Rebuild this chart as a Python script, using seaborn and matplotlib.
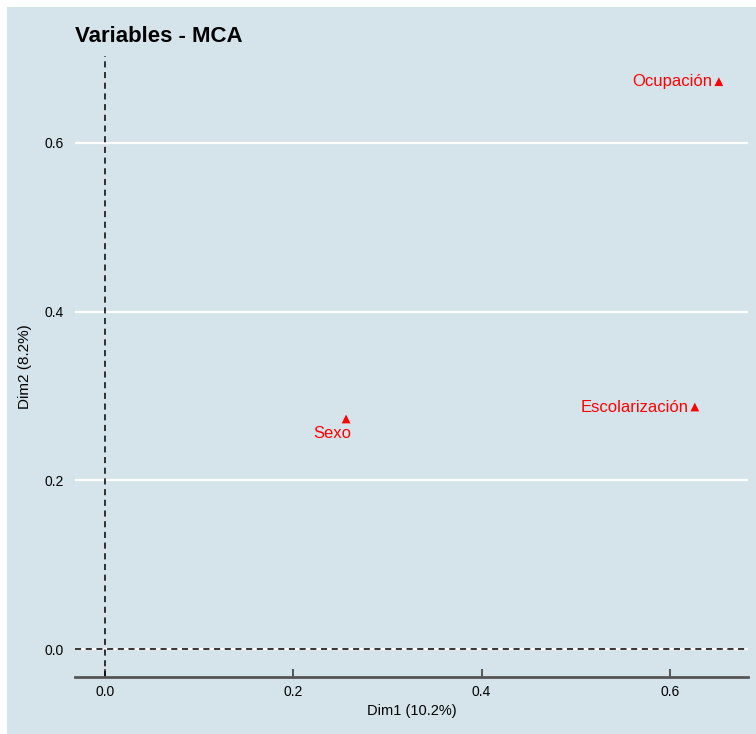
import numpy as np
import pandas as pd
import seaborn as sns
import matplotlib.pyplot as plt
from matplotlib.patches import Rectangle

# -------- Data --------
variables = ["Ocupación", "Escolarización", "Sexo"]
dim1 = [0.652, 0.6265, 0.256]
dim2 = [0.6726, 0.287, 0.2728]
x_ticks = [0.0, 0.2, 0.4, 0.6]
y_ticks = [0.0, 0.2, 0.4, 0.6]
x_label = "Dim1 (10.2%)"
y_label = "Dim2 (8.2%)"
title = "Variables - MCA"

df = pd.DataFrame({"Dim1": dim1, "Dim2": dim2, "var": variables})

BG = "#d5e4eb"
sns.set_style("white")
plt.rcParams["font.family"] = ["Liberation Sans", "DejaVu Sans"]
plt.rcParams["text.color"] = "black"
plt.rcParams["axes.labelcolor"] = "black"
plt.rcParams["xtick.color"] = "black"
plt.rcParams["ytick.color"] = "black"

fig = plt.figure(figsize=(7.56, 7.34), dpi=100)
fig.patch.set_facecolor("white")
# panel background (image is cropped: white strip on top/left only)
fig.patches.append(Rectangle((7 / 756, 0), 1, 1 - 7 / 734, transform=fig.transFigure,
                             facecolor=BG, edgecolor="none", zorder=-10))

ax = fig.add_axes([75 / 756, 1 - 677 / 734, 673 / 756, 621 / 734])
ax.set_facecolor(BG)
ax.set_zorder(1)

ax.set_xlim(-0.032, 0.683)
ax.set_ylim(-0.033, 0.703)

for yv in y_ticks:
    ax.axhline(yv, color="white", lw=1.6, zorder=1)
ax.axhline(0, color="black", lw=1.1, ls=(0, (4, 3)), zorder=2)
ax.axvline(0, color="black", lw=1.1, ls=(0, (4, 3)), zorder=2)

sns.scatterplot(data=df, x="Dim1", y="Dim2", marker="^", color="#ff0000",
                s=40, edgecolor="none", ax=ax, zorder=3, legend=False)

# label offsets (points)
offsets = {"Ocupación": (-4.5, 0, "right"),
           "Escolarización": (-4.5, 0, "right"),
           "Sexo": (-10, -10.5, "center")}
for _, r in df.iterrows():
    dx, dy, ha = offsets[r["var"]]
    ax.annotate(r["var"], (r["Dim1"], r["Dim2"]), xytext=(dx, dy),
                textcoords="offset points", ha=ha, va="center",
                color="#ff0000", fontsize=12)

ax.set_xticks(x_ticks)
ax.set_yticks(y_ticks)
ax.set_xticklabels([f"{v:.1f}" for v in x_ticks])
ax.set_yticklabels([f"{v:.1f}" for v in y_ticks])
ax.tick_params(axis="x", bottom=True, direction="in", length=6, width=1.2,
               color="#3c3c3c", labelsize=10, pad=6)
ax.tick_params(axis="y", left=False, length=0, labelsize=10, pad=8)

for side in ["top", "right", "left"]:
    ax.spines[side].set_visible(False)
ax.spines["bottom"].set_color("#555555")
ax.spines["bottom"].set_linewidth(2)

ax.set_xlabel(x_label, fontsize=10.5, labelpad=3)
ax.set_ylabel(y_label, fontsize=11, labelpad=9)

fig.text(75 / 756, 1 - 37 / 734, title, fontsize=16, fontweight="bold",
         ha="left", va="center", color="black")

fig.savefig("out.png", dpi=100)
plt.close(fig)
